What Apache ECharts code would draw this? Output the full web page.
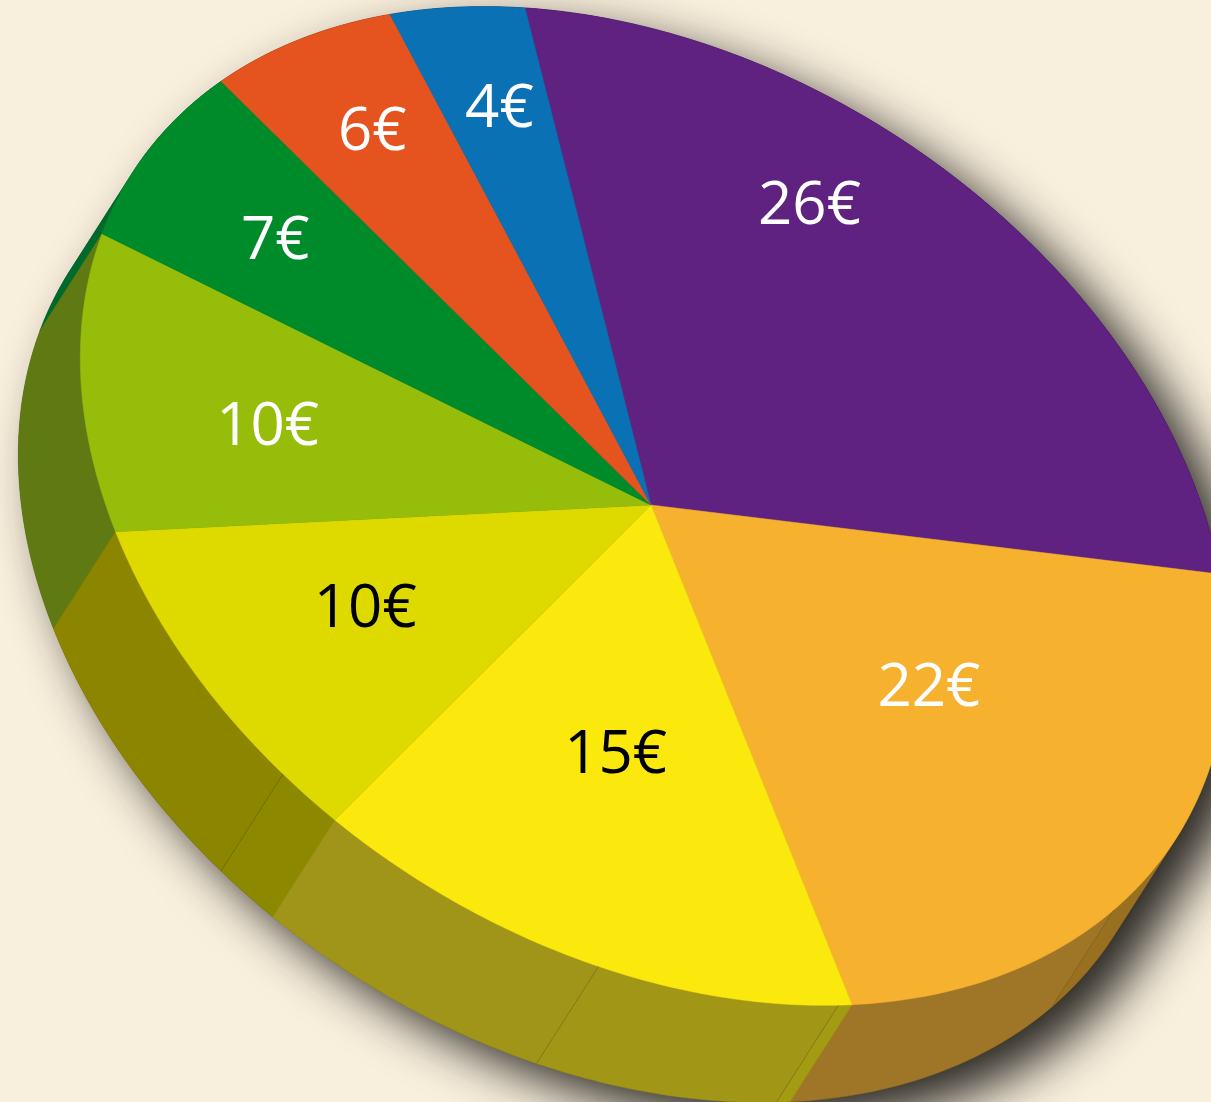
<!DOCTYPE html>
<html>
<head>
<meta charset="utf-8">
<style>html,body{margin:0;padding:0;background:#F9EFDD;overflow:hidden}#c{width:1211px;height:1102px}</style>
<script src="https://cdn.jsdelivr.net/npm/echarts@6/dist/echarts.min.js"></script>
</head>
<body>
<div id="c"></div>
<script>
// ---- data ----
const values = [26, 22, 15, 10, 10, 7, 6, 4];
const tickLabels = values.map(v => v + '€');
const sliceColors = ['#5F2280', '#F6B12F', '#FBE90D', '#DEDA00', '#97BD0B', '#008B2B', '#E5531F', '#0B71B5'];
const labelColors = ['#fff', '#fff', '#000', '#000', '#fff', '#fff', '#fff', '#fff'];
// rim creases inside the side wall, as a fraction of the full turn
const wallSeams = [0.388, 0.484, 0.5515, 0.648];
const wallBandColors = ['#3A1450', '#99701F', '#9F7527', '#A39C12', '#A29617', '#A09518', '#8C8800', '#8B8500', '#5F7A12', '#006A2C', '#8A3A10', '#064A78'];

// ---- tilted disc layout ----
const apex = [651, 505];      // where the slices meet
const discCentre = [654, 506];
const axisA = [-129, -498];   // disc vector at angle 0
const axisB = [559, 37];      // disc vector a quarter turn later
const extrude = [-62, 97];    // wall depth
const wallFront = 0.604;      // rim fraction nearest the viewer
const labelAlong = [0.362, 0.43, 0.496, 0.56, 0.48, 0.52, 0.55, 0.57];
const labelRadius = [0.775, 0.533, 0.537, 0.616, 0.669, 0.748, 0.805, 0.804];
const labelDrop = 6;

const total = values.reduce((a, b) => a + b, 0);
const cum = [0];
values.forEach(v => cum.push(cum[cum.length - 1] + v / total));
const breaks = cum.concat(wallSeams).sort((a, b) => a - b);
// [start, end, colour index], painted from the back of the wall to the front
const bands = breaks.slice(0, -1).map((b, i) => [b, breaks[i + 1], i])
  .sort((p, q) => Math.abs((q[0] + q[1]) / 2 - wallFront) - Math.abs((p[0] + p[1]) / 2 - wallFront));

function disc(f, r, c) {
  const t = 2 * Math.PI * f;
  return [
    c[0] + r * (axisA[0] * Math.cos(t) + axisB[0] * Math.sin(t)),
    c[1] + r * (axisA[1] * Math.cos(t) + axisB[1] * Math.sin(t))
  ];
}
const rim = f => disc(f, 1, discCentre);
function arc(f0, f1) {
  const n = Math.max(2, Math.ceil((f1 - f0) / 0.002)), pts = [];
  for (let i = 0; i <= n; i++) pts.push(rim(f0 + (f1 - f0) * i / n));
  return pts;
}
const down = p => [p[0] + extrude[0], p[1] + extrude[1]];
function hull(points) {
  const p = points.slice().sort((a, b) => a[0] - b[0] || a[1] - b[1]);
  const cross = (o, a, b) => (a[0] - o[0]) * (b[1] - o[1]) - (a[1] - o[1]) * (b[0] - o[0]);
  const half = list => {
    const h = [];
    list.forEach(q => {
      while (h.length > 1 && cross(h[h.length - 2], h[h.length - 1], q) <= 0) h.pop();
      h.push(q);
    });
    h.pop();
    return h;
  };
  return half(p).concat(half(p.slice().reverse()));
}

const chart = echarts.init(document.getElementById('c'));
chart.setOption({
  backgroundColor: '#F9EFDD',
  animation: false,
  series: [
    {
      type: 'custom', coordinateSystem: 'none', silent: true,
      data: [[total]],
      renderItem() {
        const ring = arc(0, 1);
        return {
          type: 'polygon',
          shape: { points: hull(ring.concat(ring.map(down))) },
          style: { fill: '#3A3833', shadowBlur: 50, shadowColor: 'rgba(30,28,24,0.95)', shadowOffsetX: 26, shadowOffsetY: 22 }
        };
      }
    },
    {
      type: 'custom', coordinateSystem: 'none', silent: true,
      data: bands,
      renderItem(params, api) {
        const f0 = api.value(0), f1 = api.value(1), a = arc(f0, f1);
        const col = wallBandColors[api.value(2)];
        const children = [{
          type: 'polygon',
          shape: { points: hull(a.concat(a.map(down))) },
          style: { fill: col, stroke: col, lineWidth: 0.6 }
        }];
        if (wallSeams.includes(f0)) {
          const p = rim(f0), q = down(p);
          children.push({
            type: 'line', z2: 5,
            shape: { x1: p[0], y1: p[1], x2: q[0], y2: q[1] },
            style: { stroke: 'rgba(60,50,10,0.3)', lineWidth: 0.8 }
          });
        }
        return { type: 'group', children };
      }
    },
    {
      type: 'custom', coordinateSystem: 'none', silent: true,
      data: values.map(v => [v]),
      renderItem(params, api) {
        const i = params.dataIndex, share = api.value(0) / total, f0 = cum[i];
        const col = sliceColors[i];
        const at = disc(f0 + share * labelAlong[i], labelRadius[i], apex);
        return {
          type: 'group',
          children: [
            { type: 'polygon', shape: { points: [apex].concat(arc(f0, f0 + share)) }, style: { fill: col, stroke: col, lineWidth: 0.5 } },
            { type: 'text', z2: 10, style: { text: tickLabels[i], x: at[0], y: at[1] + labelDrop, fill: labelColors[i], font: '60px "Open Sans"', align: 'center', verticalAlign: 'middle' } }
          ]
        };
      }
    }
  ]
});
</script>
</body>
</html>
